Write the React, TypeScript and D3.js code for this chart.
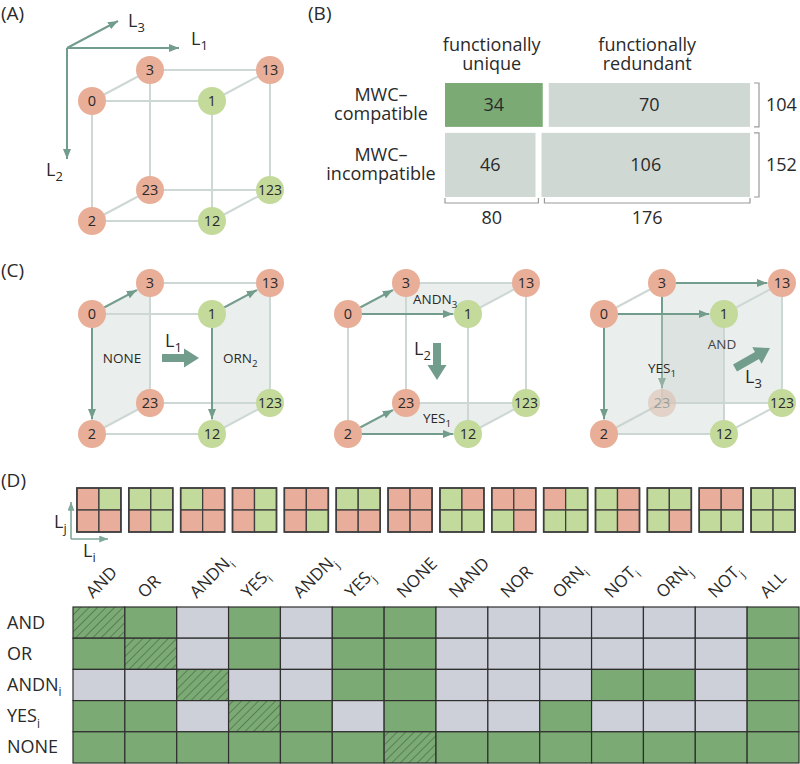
import React, { useEffect } from 'react';
import * as d3 from 'd3';

// ---------- data ----------
const NODES = ['0', '1', '2', '3', '12', '13', '23', '123'];
const NODES_ON = ['1', '12', '123'];

const MOSAIC_ROWS = [['MWC–', 'compatible'], ['MWC–', 'incompatible']];
const MOSAIC_COLS = [['functionally', 'unique'], ['functionally', 'redundant']];
const MOSAIC_COUNTS = [[34, 70], [46, 106]];

const GATES = ['AND', 'OR', 'ANDN_i', 'YES_i', 'ANDN_j', 'YES_j', 'NONE', 'NAND', 'NOR', 'ORN_i', 'NOT_i', 'ORN_j', 'NOT_j', 'ALL'];
// truth tables as [top-left, top-right, bottom-left, bottom-right]; 1 = on
const TRUTH = [
  [0, 1, 0, 0], [1, 1, 0, 1], [1, 0, 0, 0], [0, 1, 0, 1], [0, 0, 0, 1], [1, 1, 0, 0], [0, 0, 0, 0],
  [1, 0, 1, 1], [0, 0, 1, 0], [0, 1, 1, 1], [1, 0, 1, 0], [1, 1, 1, 0], [0, 0, 1, 1], [1, 1, 1, 1],
];
const ROW_GATES = ['AND', 'OR', 'ANDN_i', 'YES_i', 'NONE'];
// 2 = self (hatched), 1 = compatible, 0 = not
const COMPAT = [
  [2, 1, 0, 1, 0, 1, 1, 0, 0, 0, 0, 0, 0, 1],
  [1, 2, 0, 1, 0, 1, 1, 0, 0, 0, 0, 0, 0, 1],
  [0, 0, 2, 0, 0, 1, 1, 0, 0, 0, 1, 1, 0, 1],
  [1, 1, 0, 2, 1, 0, 1, 0, 0, 1, 0, 0, 0, 1],
  [1, 1, 1, 1, 1, 1, 2, 1, 1, 1, 1, 1, 1, 1],
];

const C_CUBES = [
  {
    under: [['0', '3', '23', '2'], ['1', '13', '123', '12']], over: [],
    arrowsUnder: [['0', '3'], ['0', '2'], ['1', '13'], ['1', '12']], arrowsOver: [],
    faded: [],
  },
  {
    under: [['0', '1', '13', '3'], ['2', '12', '123', '23']], over: [],
    arrowsUnder: [['0', '3'], ['0', '1'], ['2', '23'], ['2', '12']], arrowsOver: [],
    faded: [],
  },
  {
    under: [['3', '13', '123', '23']], over: [['0', '1', '12', '2']],
    arrowsUnder: [['3', '13'], ['3', '23']], arrowsOver: [['0', '1'], ['0', '2']],
    faded: ['23'],
  },
];

// ---------- style ----------
const FONT = "'Open Sans', 'Noto Sans', sans-serif";
const SALMON = '#E9AE98';
const LEAF = '#C3DA9A';
const EDGE = '#CDD7D3';
const SAGE = '#729C8C';
const TXT = '#2a2a2a';
const R = 14;

const l1 = d3.scaleLinear().domain([0, 1]).range([0, 120]);
const l2 = d3.scaleLinear().domain([0, 1]).range([0, 120]);
const l3x = d3.scaleLinear().domain([0, 1]).range([0, 58]);
const l3y = d3.scaleLinear().domain([0, 1]).range([0, -31]);

function pos(n: string, ox: number, oy: number): [number, number] {
  const a = n.includes('1') ? 1 : 0, b = n.includes('2') ? 1 : 0, c = n.includes('3') ? 1 : 0;
  return [ox + l1(a) + l3x(c), oy + l2(b) + l3y(c)];
}

function edges(): [string, string][] {
  const bits = (n: string) => [n.includes('1'), n.includes('2'), n.includes('3')];
  const out: [string, string][] = [];
  NODES.forEach((a, i) => NODES.forEach((b, j) => {
    if (j <= i) return;
    const A = bits(a), B = bits(b);
    if (A.filter((v, k) => v !== B[k]).length === 1) out.push([a, b]);
  }));
  return out;
}

function T({ x, y, text, size, anchor = 'start', fill = TXT, transform, subScale = 0.72, subDy = 0.3, weight }: any) {
  const [main, sub] = text.split('_');
  return (
    <text x={x} y={y} fontSize={size} textAnchor={anchor} fill={fill} transform={transform} fontFamily={FONT} fontWeight={weight}>
      {main}
      {sub !== undefined && <tspan fontSize={size * subScale} dy={size * subDy}>{sub}</tspan>}
    </text>
  );
}

function Multi({ x, y, lines, size, lh, anchor = 'middle' }: any) {
  return (
    <text x={x} y={y} fontSize={size} textAnchor={anchor} fill={TXT} fontFamily={FONT}>
      {lines.map((s: string, k: number) => <tspan key={k} x={x} dy={k === 0 ? 0 : lh}>{s}</tspan>)}
    </text>
  );
}

function Arrow({ a, b, ox, oy, color = SAGE }: any) {
  const [x1, y1] = pos(a, ox, oy), [x2, y2] = pos(b, ox, oy);
  const dx = x2 - x1, dy = y2 - y1, L = Math.hypot(dx, dy);
  const ux = dx / L, uy = dy / L;
  return <line x1={x1 + ux * R} y1={y1 + uy * R} x2={x2 - ux * (R + 1)} y2={y2 - uy * (R + 1)} stroke={color} strokeWidth={2} markerEnd="url(#head)" />;
}

function blockArrow(x1: number, y1: number, x2: number, y2: number, shaft = 8, headW = 19, headL = 15) {
  const L = Math.hypot(x2 - x1, y2 - y1);
  const ang = Math.atan2(y2 - y1, x2 - x1) * 180 / Math.PI;
  const pts = [[0, -shaft / 2], [L - headL, -shaft / 2], [L - headL, -headW / 2], [L, 0], [L - headL, headW / 2], [L - headL, shaft / 2], [0, shaft / 2]];
  return <polygon points={pts.map(p => p.join(',')).join(' ')} fill={SAGE} transform={`translate(${x1},${y1}) rotate(${ang})`} />;
}

function Node({ n, ox, oy, faded = false }: any) {
  const [x, y] = pos(n, ox, oy);
  return (
    <g opacity={faded ? 0.55 : 1}>
      <circle cx={x} cy={y} r={R} fill={NODES_ON.includes(n) ? LEAF : SALMON} />
      <text x={x} y={y + 5} fontSize={n.length > 2 ? 14 : 14.5} textAnchor="middle" fill={TXT} fontFamily={FONT}>{n}</text>
    </g>
  );
}

function Face({ f, ox, oy, fill, opacity }: any) {
  return <polygon points={f.map((n: string) => pos(n, ox, oy).join(',')).join(' ')} fill={fill} opacity={opacity} />;
}

function Cube({ ox, oy, cfg, children }: any) {
  const E = edges();
  const back = NODES.filter(n => n.includes('3'));
  const front = NODES.filter(n => !n.includes('3'));
  return (
    <g>
      {cfg.under.map((f: string[], i: number) => <Face key={'u' + i} f={f} ox={ox} oy={oy} fill="#C9D3CE" opacity={0.38} />)}
      {E.map(([a, b], i) => {
        const [x1, y1] = pos(a, ox, oy), [x2, y2] = pos(b, ox, oy);
        return <line key={'e' + i} x1={x1} y1={y1} x2={x2} y2={y2} stroke={EDGE} strokeWidth={2} />;
      })}
      {cfg.arrowsUnder.map(([a, b]: string[], i: number) => <Arrow key={'au' + i} a={a} b={b} ox={ox} oy={oy} />)}
      {back.map(n => <Node key={n} n={n} ox={ox} oy={oy} faded={cfg.faded.includes(n)} />)}
      {cfg.over.map((f: string[], i: number) => <Face key={'o' + i} f={f} ox={ox} oy={oy} fill="#C9D3CE" opacity={0.38} />)}
      {cfg.arrowsOver.map(([a, b]: string[], i: number) => <Arrow key={'ao' + i} a={a} b={b} ox={ox} oy={oy} />)}
      {front.map(n => <Node key={n} n={n} ox={ox} oy={oy} />)}
      {children}
    </g>
  );
}

function PanelA() {
  const ox = 92, oy = 101;
  const o: [number, number] = [ox - 25, oy - 53];
  return (
    <g>
      <T x={1} y={20} text="(A)" size={19} />
      <line x1={o[0]} y1={o[1]} x2={o[0] + 112} y2={o[1]} stroke={SAGE} strokeWidth={2} markerEnd="url(#head)" />
      <line x1={o[0]} y1={o[1]} x2={o[0]} y2={o[1] + 111} stroke={SAGE} strokeWidth={2} markerEnd="url(#head)" />
      <line x1={o[0]} y1={o[1]} x2={o[0] + 51} y2={o[1] - 27} stroke={SAGE} strokeWidth={2} markerEnd="url(#head)" />
      <T x={o[0] + 61} y={o[1] - 21} text="L_3" size={18} subDy={0.28} />
      <T x={o[0] + 124} y={o[1] - 3} text="L_1" size={18} subDy={0.28} />
      <T x={o[0] - 21} y={o[1] + 128} text="L_2" size={18} subDy={0.28} />
      <Cube ox={ox} oy={oy} cfg={{ under: [], over: [], arrowsUnder: [], arrowsOver: [], faded: [] }} />
    </g>
  );
}

function PanelB() {
  const x0 = 445, y0 = 83, gap = 6, totalW = 305, totalH = 114;
  const total = d3.sum(MOSAIC_COUNTS.flat());
  const rowTotals = MOSAIC_COUNTS.map(r => d3.sum(r));
  const colTotals = MOSAIC_COUNTS[0].map((_, j) => d3.sum(MOSAIC_COUNTS, r => r[j]));
  const yM = d3.scaleLinear().domain([0, total]).range([0, totalH - gap * (rowTotals.length - 1)]);
  const xC = d3.scaleLinear().domain([0, total]).range([0, totalW - gap * (colTotals.length - 1)]);
  const rowTops = rowTotals.map((_, i) => y0 + yM(d3.sum(rowTotals.slice(0, i))) + i * gap);
  const colLefts = colTotals.map((_, j) => x0 + xC(d3.sum(colTotals.slice(0, j))) + j * gap);
  const bx = x0 + totalW + 9;
  const by = y0 + totalH + 6;
  return (
    <g fontFamily={FONT}>
      <T x={308} y={20} text="(B)" size={19} />
      {MOSAIC_COLS.map((lines, j) => {
        const cx = colLefts[j] + xC(colTotals[j]) / 2;
        return <Multi key={j} x={cx} y={51} lines={lines} size={18} lh={19} />;
      })}
      {MOSAIC_COUNTS.map((row, i) => {
        const xM = d3.scaleLinear().domain([0, rowTotals[i]]).range([0, totalW - gap * (row.length - 1)]);
        const top = rowTops[i], h = yM(rowTotals[i]);
        return (
          <g key={i}>
            {row.map((v, j) => {
              const left = x0 + xM(d3.sum(row.slice(0, j))) + j * gap;
              const w = xM(v);
              return (
                <g key={j}>
                  <rect x={left} y={top} width={w} height={h} fill={i === 0 && j === 0 ? '#7BAA75' : '#CFD8D3'} />
                  <T x={left + w / 2} y={top + h / 2 + 6} text={String(v)} size={18} anchor="middle" />
                </g>
              );
            })}
            <Multi x={381} y={top + h / 2 - 4} lines={MOSAIC_ROWS[i]} size={18} lh={19} />
            <path d={`M${bx - 5},${top} H${bx} V${top + h} H${bx - 5}`} fill="none" stroke="#9a9a9a" strokeWidth={1.2} />
            <T x={bx + 7} y={top + h / 2 + 6} text={String(rowTotals[i])} size={18} />
          </g>
        );
      })}
      {colTotals.map((v, j) => {
        const l = colLefts[j], r = l + xC(v);
        return (
          <g key={j}>
            <path d={`M${l},${by - 5} V${by} H${r} V${by - 5}`} fill="none" stroke="#9a9a9a" strokeWidth={1.2} />
            <T x={(l + r) / 2} y={by + 21} text={String(v)} size={18} anchor="middle" />
          </g>
        );
      })}
    </g>
  );
}

function PanelC() {
  const oy = 314;
  const oxs = [92, 348, 604];
  return (
    <g>
      <T x={1} y={277} text="(C)" size={19} />
      <Cube ox={oxs[0]} oy={oy} cfg={C_CUBES[0]}>
        <T x={oxs[0] + 30} y={oy + 49} text="NONE" size={13.5} anchor="middle" />
        <T x={oxs[0] + 131} y={oy + 49} text="ORN_2" size={13.5} />
        {blockArrow(oxs[0] + 70, oy + 44, oxs[0] + 107, oy + 44)}
        <T x={oxs[0] + 73} y={oy + 33} text="L_1" size={18} subDy={0.28} />
      </Cube>
      <Cube ox={oxs[1]} oy={oy} cfg={C_CUBES[1]}>
        <T x={oxs[1] + 65} y={oy - 10} text="ANDN_3" size={13.5} />
        <T x={oxs[1] + 75} y={oy + 109} text="YES_1" size={13.5} />
        {blockArrow(oxs[1] + 89, oy + 29, oxs[1] + 89, oy + 66)}
        <T x={oxs[1] + 66} y={oy + 41} text="L_2" size={18} subDy={0.28} />
      </Cube>
      <Cube ox={oxs[2]} oy={oy} cfg={C_CUBES[2]}>
        <T x={oxs[2] + 118} y={oy + 35} text="AND" size={13.5} anchor="middle" fill="#444" />
        <T x={oxs[2] + 44} y={oy + 59} text="YES_1" size={13.5} />
        {blockArrow(oxs[2] + 131, oy + 54, oxs[2] + 166, oy + 34)}
        <T x={oxs[2] + 141} y={oy + 69} text="L_3" size={18} subDy={0.28} />
      </Cube>
    </g>
  );
}

function PanelD() {
  const xT = d3.scaleBand().domain(GATES).range([73, 799]);
  const yT = d3.scaleBand().domain(ROW_GATES).range([607, 763]);
  const bw = xT.bandwidth();
  const cell = d3.scaleBand().domain(['0', '1']).range([0, 44]);
  const gy = 488;
  return (
    <g fontFamily={FONT}>
      <T x={1} y={487} text="(D)" size={19} />
      {GATES.map((g, i) => {
        const gx = (xT(g) as number) + bw / 2 - 22;
        return (
          <g key={g} transform={`translate(${gx},${gy})`}>
            {TRUTH[i].map((v, k) => (
              <rect key={k} x={cell(String(k % 2))} y={cell(String(Math.floor(k / 2)))} width={cell.bandwidth()} height={cell.bandwidth()}
                fill={v ? '#C2DA9B' : '#E9AE9B'} stroke="#3f3f3f" strokeWidth={1.3} />
            ))}
            <rect x={0} y={0} width={44} height={44} fill="none" stroke="#3f3f3f" strokeWidth={1.6} />
          </g>
        );
      })}
      <line x1={71} y1={539} x2={71} y2={502} stroke="#80A99A" strokeWidth={1.6} markerEnd="url(#headS)" />
      <line x1={71} y1={539} x2={108} y2={539} stroke="#80A99A" strokeWidth={1.6} markerEnd="url(#headS)" />
      <T x={54} y={528} text="L_j" size={18} subDy={0.3} />
      <T x={83} y={557} text="L_i" size={18} subDy={0.3} />
      {GATES.map(g => {
        const cx = (xT(g) as number) + bw / 2;
        return <T key={g} x={0} y={0} text={g} size={17} subDy={0.3} subScale={0.65} transform={`translate(${cx - 6},599) rotate(-45)`} />;
      })}
      {ROW_GATES.map((g, r) => (
        <g key={g}>
          <T x={7} y={(yT(g) as number) + yT.bandwidth() / 2 + 6} text={g} size={18} subScale={0.65} subDy={0.3} />
          {GATES.map((c, j) => {
            const v = COMPAT[r][j];
            return (
              <g key={c}>
                <rect x={xT(c)} y={yT(g)} width={bw} height={yT.bandwidth()} fill={v ? '#7BAA74' : '#CDD0D8'} />
                {v === 2 && <rect x={xT(c)} y={yT(g)} width={bw} height={yT.bandwidth()} fill="url(#hatch)" />}
                <rect x={xT(c)} y={yT(g)} width={bw} height={yT.bandwidth()} fill="none" stroke="#2f2f2f" strokeWidth={1.2} />
              </g>
            );
          })}
        </g>
      ))}
    </g>
  );
}

export default function App() {
  useEffect(() => { document.body.style.margin = '0'; }, []);
  return (
    <svg width={800} height={764} style={{ position: 'absolute', left: 0, top: 0, background: '#fff' }} fontFamily={FONT}>
      <defs>
        <marker id="head" viewBox="0 0 10 8" refX={10} refY={4} markerWidth={10} markerHeight={8} markerUnits="userSpaceOnUse" orient="auto">
          <path d="M0,0 L10,4 L0,8 z" fill={SAGE} />
        </marker>
        <marker id="headS" viewBox="0 0 10 8" refX={10} refY={4} markerWidth={9} markerHeight={7} markerUnits="userSpaceOnUse" orient="auto">
          <path d="M0,0 L10,4 L0,8 z" fill="#80A99A" />
        </marker>
        <pattern id="hatch" width={6} height={6} patternUnits="userSpaceOnUse" patternTransform="rotate(45)">
          <line x1={0} y1={0} x2={0} y2={6} stroke="#2f4a30" strokeWidth={0.9} />
        </pattern>
      </defs>
      <rect width={800} height={764} fill="#fff" />
      <PanelA />
      <PanelB />
      <PanelC />
      <PanelD />
    </svg>
  );
}
